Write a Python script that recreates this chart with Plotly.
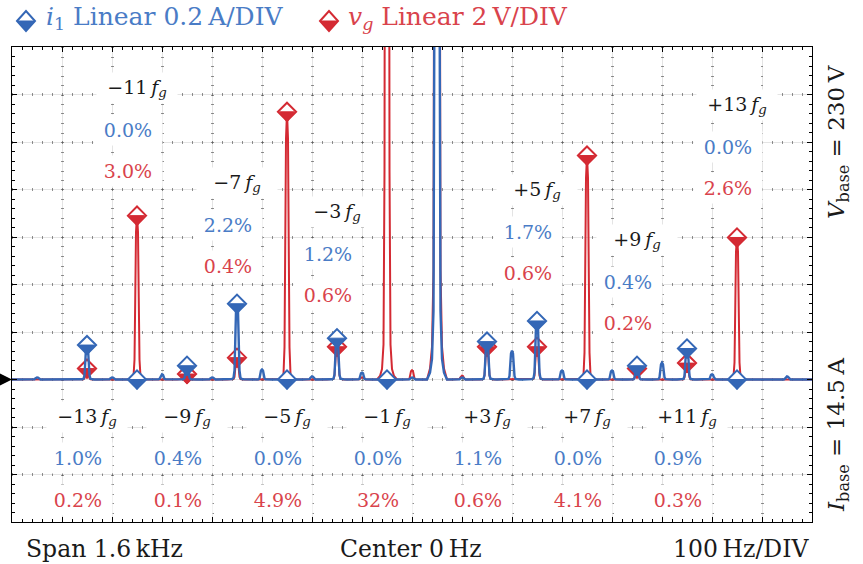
import plotly.graph_objects as go

# ---------------------------------------------------------------- data
FG = 50.0                      # grid frequency [Hz]
I_BASE, I_DIV = 14.5, 0.2      # current base [A] and vertical scale [A/DIV]
V_BASE, V_DIV = 230.0, 2.0     # voltage base [V] and vertical scale [V/DIV]

# labelled harmonic orders and their magnitudes in % of the base value
orders = [-13, -11, -9, -7, -5, -3, -1, 1, 3, 5, 7, 9, 11, 13]
i1_pct = [1.0, 0.0, 0.4, 2.2, 0.0, 1.2, 0.0, 100.0, 1.1, 1.7, 0.0, 0.4, 0.9, 0.0]
vg_pct = [0.2, 3.0, 0.1, 0.4, 4.9, 0.6, 32.0, 100.0, 0.6, 0.6, 4.1, 0.2, 0.3, 2.6]

# small unlabelled spectral lines (order, % of base)
i1_minor_orders = [-15, -12, -10, -8, -6, -4, -2, 0, 2, 4, 6, 8, 10, 12, 15]
i1_minor_pct = [0.06, 0.06, 0.15, 0.06, 0.29, 0.09, 0.20, 0.06, 0.06, 0.84, 0.26, 0.26, 0.49, 0.15, 0.09]
vg_minor_orders = [-2, 0, 2]
vg_minor_pct = [0.04, 0.17, 0.07]

# ---------------------------------------------------------------- style
BLUE, RED = "#3467b6", "#d42a33"
BLUE_TXT, RED_TXT = "#4a7cc6", "#d9434c"
FONT = "DejaVu Serif"
W, H = 863, 564
ML, MR, MT, MB = 12, 51, 47, 42
PW, PH = W - ML - MR, H - MT - MB

# analyser line shape (offset in Hz, relative level)
LOBE_DF = [-20, -14, -10, -7, -5, -3.5, -2, 0, 2, 3.5, 5, 7, 10, 14, 20]
LOBE_REL = [0, 0.002, 0.006, 0.02, 0.12, 0.5, 0.9, 1, 0.9, 0.5, 0.12, 0.02, 0.006, 0.002, 0]


def i_div(p):
    return p / 100.0 * I_BASE / I_DIV


def v_div(p):
    return p / 100.0 * V_BASE / V_DIV


def spectrum(ords, pcts, to_div):
    xs, ys = [-800.0], [0.0]
    for o, p in sorted(zip(ords, pcts)):
        if p <= 0:
            continue
        h = to_div(p)
        for df, rel in zip(LOBE_DF, LOBE_REL):
            xs.append(o * FG + df)
            ys.append(h * rel)
    xs.append(800.0)
    ys.append(0.0)
    return xs, ys


def px_x(px):
    return (px - ML) / PW


def px_y(py):
    return (MT + PH - py) / PH


marked = [k for k, o in enumerate(orders) if o != 1]
mk_x = [orders[k] * FG for k in marked]
mk_i = [i_div(i1_pct[k]) for k in marked]
mk_v = [v_div(vg_pct[k]) for k in marked]

DIA = 14          # diamond marker size
TRI = 13.2        # lower-half triangle size


def markers(x, y, color):
    outline = go.Scatter(
        x=x, y=y, mode="markers", hoverinfo="skip",
        marker=dict(symbol="diamond", size=DIA, color="white",
                    line=dict(color=color, width=2)))
    half = go.Scatter(
        x=x, y=y, mode="markers", hoverinfo="skip",
        marker=dict(symbol="triangle-down", size=TRI, color=color,
                    standoff=TRI / 4, line=dict(color=color, width=1)))
    return [outline, half]


vx, vy = spectrum(orders + vg_minor_orders, vg_pct + vg_minor_pct, v_div)
ix, iy = spectrum(orders + i1_minor_orders, i1_pct + i1_minor_pct, i_div)

traces = [go.Scatter(x=vx, y=vy, mode="lines", line=dict(color=RED, width=2), hoverinfo="skip")]
traces += markers(mk_x, mk_v, RED)
traces += [go.Scatter(x=ix, y=iy, mode="lines", line=dict(color=BLUE, width=2.4), hoverinfo="skip")]
traces += markers(mk_x, mk_i, BLUE)
# carrier for the graticule dot pattern axes
traces += [go.Scatter(x=[None], y=[None], xaxis="x2", yaxis="y2", hoverinfo="skip")]

fig = go.Figure(traces)

frame = dict(showline=True, linecolor="black", linewidth=1.4, mirror="allticks",
             ticks="inside", ticklen=5, tickwidth=1, tickcolor="black",
             showticklabels=False, zeroline=False,
             showgrid=True, gridcolor="#e4e4e4", gridwidth=1)
fig.update_layout(
    width=W, height=H, margin=dict(l=ML, r=MR, t=MT, b=MB),
    paper_bgcolor="white", plot_bgcolor="white", showlegend=False,
    font=dict(family=FONT, color="#1a1a1a"),
    xaxis=dict(range=[-800, 800], tick0=0, dtick=100,
               minor=dict(dtick=20, ticks="inside", ticklen=3, tickcolor="black", showgrid=False),
               **frame),
    yaxis=dict(range=[-3, 7], tick0=0, dtick=1,
               minor=dict(dtick=0.2, ticks="inside", ticklen=3, tickcolor="black", showgrid=False),
               **frame),
    xaxis2=dict(range=[-800, 800], overlaying="x", anchor="y2", tick0=0, dtick=100,
                showgrid=True, griddash="1px,8.5px", gridwidth=3, gridcolor="rgba(70,70,70,0.6)",
                showline=False, ticks="", showticklabels=False, zeroline=False),
    yaxis2=dict(range=[-3, 7], overlaying="y", anchor="x2", tick0=0, dtick=1,
                showgrid=True, griddash="1px,9px", gridwidth=3, gridcolor="rgba(70,70,70,0.6)",
                showline=False, ticks="", showticklabels=False, zeroline=False),
)

# reference-level pointer on the left edge
shapes = [dict(type="path", xref="paper", yref="y", xsizemode="pixel", ysizemode="pixel",
               xanchor=0, yanchor=0, path="M-12,6 L0,0 L-12,-6 Z",
               fillcolor="black", line=dict(width=0))]

# legend keys (half-filled diamonds)
for cx, col in [(26, BLUE), (329, RED)]:
    shapes.append(dict(type="path", xref="paper", yref="paper", xsizemode="pixel", ysizemode="pixel",
                       xanchor=px_x(cx), yanchor=px_y(21), path="M-9,0 L0,10 L9,0 L0,-10 Z",
                       fillcolor="white", line=dict(color=col, width=2)))
    shapes.append(dict(type="path", xref="paper", yref="paper", xsizemode="pixel", ysizemode="pixel",
                       xanchor=px_x(cx), yanchor=px_y(21), path="M-8,0 L8,0 L0,-10 Z",
                       fillcolor=col, line=dict(color=col, width=1)))
fig.update_layout(shapes=shapes)

ann = []


def text(x, y, s, size, color="#1a1a1a", xanchor="left", xref="paper", **kw):
    ann.append(dict(x=x, y=y, xref=xref, yref="paper", text=s, showarrow=False,
                    xanchor=xanchor, yanchor="middle",
                    font=dict(family=FONT, size=size, color=color), **kw))


# legend text
text(px_x(44), px_y(18), "<i>i</i><sub>1</sub> Linear 0.2\u2009A/DIV", 25, BLUE_TXT)
text(px_x(346), px_y(18), "<i>v</i><sub><i>g</i></sub> Linear 2\u2009V/DIV", 25, RED_TXT)

# footer
text(px_x(24), px_y(549), "Span 1.6\u2009kHz", 23.5)
text(px_x(411), px_y(549), "Center 0\u2009Hz", 23.5, xanchor="center")
text(px_x(811), px_y(549), "100\u2009Hz/DIV", 23.5, xanchor="right")

# base values on the right
text(px_x(838), px_y(142), "<i>V</i><sub>base</sub> = 230\u2009V", 23, xanchor="center", textangle=-90)
text(px_x(838), px_y(435), "<i>I</i><sub>base</sub> = 14.5\u2009A", 23, xanchor="center", textangle=-90)

# harmonic labels: top-row pixel height of each three-line block
label_top = {-11: 88, -7: 183, -3: 212, 5: 190, 9: 240, 13: 105,
             -13: 417, -9: 417, -5: 417, -1: 417, 3: 417, 7: 417, 11: 417}
ROW = 41.5


def pct_txt(p):
    return f"{p:.0f}%" if p >= 10 else f"{p:.1f}%"


for k in marked:
    o = orders[k]
    y0 = label_top[o]
    name = ("\u2212" if o < 0 else "+") + f"{abs(o)}\u2009<i>f</i><sub><i>g</i></sub>"
    text(o * FG, px_y(y0), name, 19, "#1a1a1a", xanchor="center", xref="x",
         bgcolor="white", width=80, height=30, borderpad=0, align="center")
    for r, (val, col) in enumerate([(i1_pct[k], BLUE_TXT), (vg_pct[k], RED_TXT)], start=1):
        text(o * FG, px_y(y0 + r * ROW), pct_txt(val), 19, col, xanchor="center", xref="x",
             xshift=-9, bgcolor="white", width=68, height=30, borderpad=0, align="center")

fig.update_layout(annotations=ann)
fig.write_html("out.html")
